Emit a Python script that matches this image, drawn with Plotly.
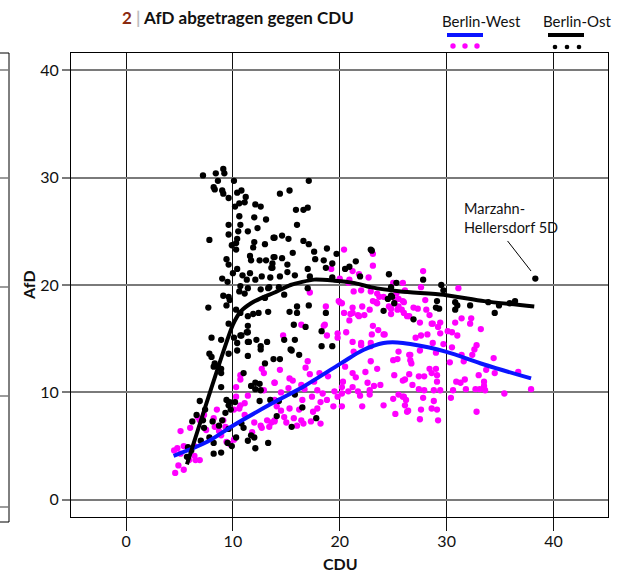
import plotly.graph_objects as go

# ---------------- data ----------------
ost_cdu = [7.2,8.4,9.1,9.2,8.6,10.1,8.2,8.3,9.0,9.1,9.6,10.4,10.8,11.2,11.1,10.6,10.2,12.1,12.6,10.6,12.0,13.1,9.6,10.7,12.3,9.6,10.5,11.4,7.8,10.4,10.3,12.0,13.8,9.9,10.3,11.9,13.0,11.6,12.5,13.1,13.8,9.4,9.6,11.7,13.7,13.6,10.4,10.0,10.9,11.6,9.0,9.5,11.3,12.1,12.7,13.5,10.7,11.4,12.6,13.3,9.1,9.6,9.7,10.6,11.1,7.7,9.4,13.0,10.3,10.7,11.4,11.9,12.4,13.3,9.6,
           17.1,14.4,15.3,15.9,16.6,17.0,16.0,13.9,14.6,15.2,16.6,17.1,17.6,18.8,19.7,13.9,14.6,15.6,17.7,18.5,19.3,15.1,13.7,14.4,15.1,15.8,17.0,18.7,20.5,20.9,21.5,22.9,17.2,19.3,21.9,24.6,14.3,14.8,13.4,24.8,25.3,24.8,25.1,24.1,17.1,16.0,15.3,16.0,18.7,15.7,18.3,14.8,15.8,18.3,19.3,15.4,11.5,12.2,13.2,10.7,11.4,11.4,8.0,8.9,
           23.0,24.9,24.5,17.0,
           16.8,15.5,16.2,13.8,14.4,15.8,14.3,16.5,14.1,17.8,15.5,
           11.3,10.8,10.1,10.4,11.4,10.4,12.6,12.6,7.8,8.0,9.6,11.4,8.2,8.3,8.9,8.9,13.0,11.0,12.1,12.5,11.7,8.9,12.1,12.6,6.9,9.4,9.7,9.6,10.2,12.5,13.5,7.4,9.8,9.3,6.6,6.2,7.2,8.1,9.0,10.8,7.3,8.7,9.6,11.0,11.7,12.0,11.4,7.8,8.2,7.0,10.3,9.5,9.9,12.1,13.3,8.2,8.9,5.8,6.1,5.7,8.6,
           27.8,29.5,29.7,29.1,29.0,29.3,30.8,31.0,30.8,32.2,33.9,34.9,34.5,35.9,36.4,26.9,38.3]
ost_afd = [30.2,30.4,30.8,30.4,29.7,29.7,29.1,28.9,28.8,28.5,28.1,28.6,28.8,28.2,27.7,27.6,27.3,27.5,27.3,26.4,26.3,26.1,25.6,25.6,25.3,24.7,25.0,25.0,24.2,24.3,23.9,24.0,24.4,23.7,23.3,23.5,23.8,22.7,22.3,22.3,22.6,22.4,21.9,22.3,22.0,21.6,21.5,21.1,20.9,21.1,20.6,20.3,20.5,20.5,20.8,20.7,19.9,19.7,19.6,19.7,19.0,18.9,18.6,19.4,19.2,17.9,18.1,18.8,17.7,17.4,17.1,17.3,17.4,17.5,16.4,
           29.7,28.5,28.8,27.0,27.0,27.2,25.6,24.4,24.6,24.3,24.1,23.8,23.1,23.4,22.9,22.6,22.5,23.0,22.4,22.3,22.0,21.9,21.6,20.8,21.2,20.9,21.5,21.6,21.5,21.7,22.2,23.3,20.8,20.7,20.8,21.0,19.8,19.1,19.8,19.8,20.2,19.0,18.3,17.6,18.1,18.0,17.5,17.4,17.4,16.3,15.7,14.9,14.9,14.3,14.3,14.0,14.7,14.9,14.7,15.3,15.6,16.2,15.1,14.9,
           23.2,18.9,18.7,19.7,
           16.1,13.9,13.5,13.1,13.1,9.8,9.2,8.6,7.8,7.6,6.8,
           15.6,15.3,15.1,14.6,14.7,13.9,14.0,14.3,13.6,13.3,13.6,13.4,12.4,12.7,12.2,11.8,12.7,11.8,10.9,10.8,10.6,10.5,10.3,10.2,9.2,9.3,9.1,8.8,9.1,9.2,9.3,8.4,8.4,8.1,7.9,7.3,7.4,7.3,7.4,7.1,6.7,6.9,6.6,6.7,6.0,5.8,5.5,5.8,5.3,5.5,5.8,5.3,5.0,4.8,5.3,4.3,4.4,4.9,4.6,4.0,12.4,
           20.5,20.0,19.5,18.5,17.9,17.8,18.4,18.1,17.7,18.1,18.4,18.1,17.4,18.3,18.5,16.8,20.6]

west_cdu = [20.4,23.1,23.1,22.7,21.2,21.8,20.0,17.2,19.2,20.8,21.3,22.0,22.9,23.5,24.1,20.0,20.4,21.2,22.1,23.4,24.6,18.7,18.6,20.9,21.7,22.3,23.1,24.1,20.6,19.8,18.8,16.4,14.7,22.0,22.9,25.2,25.4,
            20.9,23.7,23.1,23.5,22.8,21.2,20.2,19.9,21.0,21.8,24.8,25.0,25.3,25.5,25.9,26.1,25.9,25.5,25.8,26.3,24.8,
            18.5,19.8,23.6,23.0,24.2,21.2,22.0,22.9,21.3,25.5,26.5,17.0,22.9,25.0,25.4,16.8,17.2,14.4,18.1,20.5,22.4,23.5,18.9,21.2,21.5,25.1,26.1,15.3,15.6,13.9,17.6,20.3,20.2,21.2,22.6,23.2,23.8,20.8,21.7,22.8,15.2,17.9,19.5,20.2,18.4,18.8,19.8,16.5,17.4,18.2,19.4,20.2,21.9,22.8,22.1,24.1,25.0,25.5,25.9,26.1,26.3,25.2,17.9,17.5,16.2,14.5,14.8,15.7,16.4,17.3,18.2,16.0,16.6,13.9,15.0,14.5,16.4,16.7,14.1,15.3,
            12.7,12.9,10.7,10.7,13.9,10.3,12.9,11.4,10.7,11.1,10.1,10.6,8.5,7.3,6.9,8.2,9.1,6.0,5.1,8.3,7.5,8.7,13.2,12.7,13.6,11.8,12.6,9.4,9.7,10.1,8.9,4.8,4.5,5.4,6.4,4.9,4.6,5.4,5.9,6.5,6.9,6.4,5.1,13.9,13.9,10.3,11.1,12.0,13.4,9.3,6.7,
            27.8,27.6,31.1,26.0,26.9,27.3,28.0,28.1,26.5,28.4,27.5,28.7,29.4,30.8,31.4,32.3,26.0,
            28.6,29.2,32.2,33.2,27.1,27.6,28.2,29.4,30.1,30.5,31.0,28.7,29.7,30.5,32.8,32.6,26.6,27.5,29.0,32.4,31.4,31.6,30.3,26.6,26.7,34.4,33.7,34.5,36.7,28.4,29.0,28.6,29.1,26.5,27.4,27.9,33.0,29.1,30.9,31.3,31.7,33.5,25.9,26.8,33.5,33.6,27.4,27.9,28.8,29.4,30.6,31.8,32.7,33.1,35.4,37.9,26.0,26.2,27.8,28.8,30.4,26.4,27.6,28.6,29.1,32.8,27.5,29.2]
west_afd = [23.3,22.9,21.8,20.7,21.3,21.0,20.6,19.3,21.5,20.2,19.4,19.5,19.4,19.2,18.9,18.4,17.4,17.4,18.0,18.4,18.0,18.0,16.3,16.7,17.2,17.2,16.2,15.4,15.6,15.5,15.3,16.3,15.3,14.6,14.6,18.6,17.7,
            20.5,18.9,18.5,18.3,17.7,17.9,18.3,18.5,17.3,17.1,17.3,20.2,19.2,18.7,20.2,19.5,18.5,18.0,17.7,17.1,17.8,
            16.2,15.1,15.8,15.4,15.4,14.7,14.4,14.3,13.8,13.8,13.5,12.9,12.9,13.0,13.1,12.3,11.7,12.1,11.8,12.4,11.9,12.2,11.5,11.8,11.4,11.6,11.2,11.3,11.1,10.9,11.0,11.0,10.5,10.5,10.9,10.6,10.7,10.1,10.1,10.2,10.4,10.2,10.1,9.9,9.9,9.3,9.6,9.3,9.6,9.1,8.7,8.7,9.7,9.8,8.7,8.8,9.4,9.8,9.6,8.8,8.2,8.0,8.5,8.2,8.4,8.3,7.7,7.6,7.4,7.3,7.1,6.9,7.1,7.4,7.2,10.0,10.7,10.3,8.7,8.5,
            12.2,11.8,11.6,11.2,10.9,10.5,10.2,9.7,8.8,9.0,8.4,8.5,8.4,7.9,7.4,7.6,7.4,6.7,6.4,6.8,6.5,6.4,7.4,6.7,7.2,6.3,6.9,5.4,5.2,5.6,6.0,4.8,4.6,5.0,5.0,3.2,2.5,2.8,3.7,3.7,3.7,4.1,4.3,7.3,9.3,9.6,7.9,7.2,6.8,6.8,7.7,
            21.3,19.8,19.7,18.4,17.9,17.8,18.6,17.7,17.1,17.2,16.5,16.4,16.5,16.5,16.9,16.9,17.4,
            16.4,16.1,16.4,15.9,15.1,15.3,15.4,15.5,15.7,15.6,15.3,14.6,14.5,14.2,14.4,14.0,13.5,13.9,13.7,13.5,13.5,12.9,12.8,13.0,12.7,13.2,12.1,11.8,11.9,12.2,12.2,11.8,11.6,11.7,11.5,11.5,11.6,11.0,11.0,10.9,11.2,11.0,11.1,10.7,10.6,10.2,10.3,10.2,10.2,10.2,10.2,10.3,10.3,10.3,9.9,10.3,9.6,9.3,9.5,9.2,9.5,8.3,8.4,8.5,8.4,8.2,7.5,7.4]

# smoothed curves
ost_fit_cdu = [5.7, 10.0, 10.7, 11.7, 12.9, 13.9, 15.4, 17.6, 19.5, 21.3, 22.9, 25.7, 29.7, 33.5, 38.2]
ost_fit_afd = [3.3, 16.3, 17.5, 18.3, 18.9, 19.3, 20.0, 20.5, 20.4, 20.2, 19.8, 19.4, 19.1, 18.5, 18.0]
west_fit_cdu = [4.45, 7.6, 10.0, 13.8, 16.7, 20.1, 22.2, 24.1, 25.4, 26.6, 29.9, 33.5, 37.9]
west_fit_afd = [4.1, 5.4, 6.9, 9.05, 10.6, 12.7, 13.95, 14.6, 14.65, 14.5, 13.8, 12.6, 11.3]

x_ticks = [0, 10, 20, 30, 40]
y_ticks = [0, 10, 20, 30, 40]

title_num = "2"
title_text = "AfD abgetragen gegen CDU"
legend_west = "Berlin-West"
legend_ost = "Berlin-Ost"
note_lines = ["Marzahn-", "Hellersdorf 5D"]

BLUE = "#0a14ff"
MAGENTA = "#ff00ff"
BLACK = "#000000"
NARROW = "Lato, sans-serif"
BOLD = "Lato, sans-serif"

fig = go.Figure()
fig.add_trace(go.Scatter(x=west_cdu, y=west_afd, mode="markers",
                         marker=dict(color=MAGENTA, size=6.3, line=dict(width=0)),
                         hoverinfo="skip", showlegend=False))
fig.add_trace(go.Scatter(x=ost_cdu, y=ost_afd, mode="markers",
                         marker=dict(color=BLACK, size=6.3, line=dict(width=0)),
                         hoverinfo="skip", showlegend=False))
fig.add_trace(go.Scatter(x=west_fit_cdu, y=west_fit_afd, mode="lines",
                         line=dict(color=BLUE, width=4, shape="spline", smoothing=1.0),
                         hoverinfo="skip", showlegend=False))
fig.add_trace(go.Scatter(x=ost_fit_cdu, y=ost_fit_afd, mode="lines",
                         line=dict(color=BLACK, width=4, shape="spline", smoothing=0.6),
                         hoverinfo="skip", showlegend=False))

L, R, T, B = 71, 11, 53, 56
W, H = 619, 573
PW, PH = W - L - R, H - T - B


def px(x):
    return (x - L) / PW


def py(y):
    return (H - B - y) / PH


shapes = []
# legend glyphs
shapes.append(dict(type="line", xref="paper", yref="paper", x0=px(447), x1=px(483), y0=py(35), y1=py(35),
                   line=dict(color=BLUE, width=4)))
shapes.append(dict(type="line", xref="paper", yref="paper", x0=px(548), x1=px(584), y0=py(35), y1=py(35),
                   line=dict(color=BLACK, width=4)))
for cx in (453, 465, 477):
    shapes.append(dict(type="circle", xref="paper", yref="paper", x0=px(cx - 2.7), x1=px(cx + 2.7),
                       y0=py(46 + 2.7), y1=py(46 - 2.7), fillcolor=MAGENTA, line=dict(width=0)))
for cx in (555, 567, 579):
    shapes.append(dict(type="circle", xref="paper", yref="paper", x0=px(cx - 2.3), x1=px(cx + 2.3),
                       y0=py(47 + 2.3), y1=py(47 - 2.3), fillcolor=BLACK, line=dict(width=0)))
# pointer line of the note
shapes.append(dict(type="line", xref="x", yref="y", x0=35.7, y0=24.1, x1=37.9, y1=21.3,
                   line=dict(color=BLACK, width=1)))
# edge of the neighbouring panel at the left
shapes.append(dict(type="line", xref="paper", yref="paper", x0=px(9), x1=px(9), y0=py(53), y1=py(522),
                   line=dict(color=BLACK, width=1)))
shapes.append(dict(type="line", xref="paper", yref="paper", x0=px(-2), x1=px(9), y0=py(53), y1=py(53),
                   line=dict(color=BLACK, width=1)))
shapes.append(dict(type="line", xref="paper", yref="paper", x0=px(-2), x1=px(9), y0=py(522), y1=py(522),
                   line=dict(color=BLACK, width=1)))
for gy in (70, 178, 287, 396, 507):
    shapes.append(dict(type="line", xref="paper", yref="paper", x0=px(-2), x1=px(9), y0=py(gy), y1=py(gy),
                       line=dict(color="#7a7a7a", width=1.5)))

annotations = [
    dict(xref="paper", yref="paper", x=px(120), y=py(18), xanchor="left", yanchor="middle", showarrow=False,
         text=f"<b><span style='color:#8a2a10'>{title_num}</span> <span style='color:#bdbdbd'>|</span> {title_text}</b>",
         font=dict(family=BOLD, size=17, color="#111")),
    dict(xref="paper", yref="paper", x=px(481), y=py(21), xanchor="center", yanchor="middle", showarrow=False,
         text=legend_west, font=dict(family=NARROW, size=15, color="#111")),
    dict(xref="paper", yref="paper", x=px(577), y=py(21), xanchor="center", yanchor="middle", showarrow=False,
         text=legend_ost, font=dict(family=NARROW, size=15, color="#111")),
    dict(xref="x", yref="y", x=31.4, y=26.2, xanchor="left", yanchor="middle", showarrow=False, align="left",
         text="<br>".join(note_lines), font=dict(family=NARROW, size=14.5, color="#111")),
    dict(xref="paper", yref="paper", x=px(340), y=py(563), xanchor="center", yanchor="middle", showarrow=False,
         text="<b>CDU</b>", font=dict(family=BOLD, size=16, color="#111")),
    dict(xref="paper", yref="paper", x=px(28), y=py(285), xanchor="center", yanchor="middle", showarrow=False,
         textangle=-90, text="<b>AfD</b>", font=dict(family=BOLD, size=16, color="#111")),
]

fig.update_layout(
    width=W, height=H, margin=dict(l=L, r=R, t=T, b=B, pad=0),
    paper_bgcolor="white", plot_bgcolor="white",
    shapes=shapes, annotations=annotations, showlegend=False,
    font=dict(family=NARROW, size=15, color="#111"),
)
fig.update_xaxes(range=[-5.15, 45.1], tickvals=x_ticks, ticktext=[str(v) for v in x_ticks],
                 showgrid=True, gridcolor="#111", gridwidth=1, zeroline=False,
                 ticks="outside", ticklen=13, tickcolor="#111", tickwidth=1,
                 ticklabelstandoff=-3,
                 showline=True, mirror=True, linecolor=BLACK, linewidth=1,
                 tickfont=dict(family=NARROW, size=16, color="#111"))
fig.update_yaxes(range=[-1.6, 41.6], tickvals=y_ticks, ticktext=[str(v) for v in y_ticks],
                 showgrid=True, gridcolor="#7a7a7a", gridwidth=2, zeroline=False,
                 ticks="outside", ticklen=8, tickcolor="#7a7a7a", tickwidth=2,
                 showline=True, mirror=True, linecolor=BLACK, linewidth=1,
                 tickfont=dict(family=NARROW, size=16, color="#111"))

fig.write_html("out.html")
